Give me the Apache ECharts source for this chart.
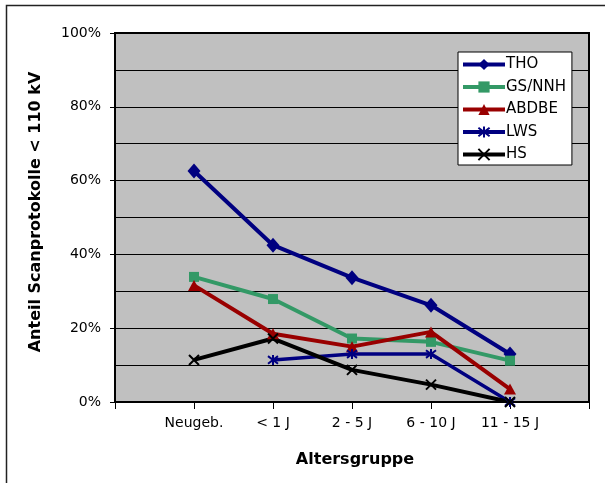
<!DOCTYPE html>
<html>
<head>
<meta charset="utf-8">
<script src="https://cdn.jsdelivr.net/npm/echarts@6/dist/echarts.min.js"></script>
<style>
  html, body { margin: 0; padding: 0; background: #fff; }
  #chart { width: 605px; height: 483px; }
</style>
</head>
<body>
<div id="chart"></div>
<script>
// Age groups; empty slots pad the axis so points sit on the inner ticks
const categories = ['', 'Neugeb.', '< 1 J', '2 - 5 J', '6 - 10 J', '11 - 15 J', ''];

// Share of scan protocols below 110 kV per site (fraction)
const tho    = [null, 0.626, 0.425, 0.337, 0.262, 0.130, null];
const gsNnh  = [null, 0.339, 0.279, 0.172, 0.163, 0.112, null];
const abdbe  = [null, 0.316, 0.185, 0.150, 0.190, 0.035, null];
const lws    = [null, null,  0.114, 0.130, 0.130, 0.000, null];
const hs     = [null, 0.114, 0.172, 0.087, 0.047, 0.000, null];

const yTicks = [0, 0.2, 0.4, 0.6, 0.8, 1.0];

const FONT = 'DejaVu Sans';
const NAVY = '#000080';

const asterisk = 'path://M0,0L10,10M10,0L0,10M5,-1.5L5,11.5';
const cross = 'path://M0,0L10,10M10,0L0,10';

function lineSeries(name, data, color, symbol, size, extra) {
  return Object.assign({
    name: name,
    type: 'line',
    data: data,
    symbol: symbol,
    symbolSize: size,
    showAllSymbol: true,
    connectNulls: false,
    lineStyle: { color: color, width: 4 },
    itemStyle: { color: color },
    emphasis: { disabled: true },
    animation: false
  }, extra || {});
}

const chart = echarts.init(document.getElementById('chart'), null, { renderer: 'canvas' });

chart.setOption({
  backgroundColor: '#fff',
  textStyle: { fontFamily: FONT, color: '#000' },
  grid: {
    left: 115, top: 33, right: 16, bottom: 81,
    show: true,
    backgroundColor: '#c0c0c0',
    borderColor: '#000',
    borderWidth: 2
  },
  legend: {
    orient: 'vertical',
    left: 458,
    top: 52,
    backgroundColor: '#fff',
    borderColor: '#000',
    borderWidth: 1,
    borderRadius: 0,
    padding: [5, 6, 3, 3],
    itemWidth: 42,
    itemHeight: 14,
    itemGap: 7.5,
    lineStyle: { width: 4 },
    textStyle: { fontFamily: FONT, fontSize: 15, color: '#000', padding: [0, 0, 0, -4] },
    data: ['THO', 'GS/NNH', 'ABDBE', 'LWS', 'HS']
  },
  xAxis: {
    type: 'category',
    data: categories,
    boundaryGap: false,
    axisLine: { lineStyle: { color: '#000', width: 2 } },
    axisTick: { show: true, interval: 0, length: 7, lineStyle: { color: '#000', width: 1 } },
    axisLabel: { interval: 0, color: '#000', fontFamily: FONT, fontSize: 14, margin: 14 },
    splitLine: { show: false }
  },
  yAxis: {
    type: 'value',
    min: yTicks[0],
    max: yTicks[yTicks.length - 1],
    interval: 0.2,
    axisLine: { show: true, lineStyle: { color: '#000', width: 2 } },
    axisTick: { show: true, length: 5, lineStyle: { color: '#000', width: 1 } },
    axisLabel: {
      color: '#000', fontFamily: FONT, fontSize: 14, margin: 14,
      formatter: v => Math.round(v * 100) + '%'
    },
    splitLine: { show: true, lineStyle: { color: '#000', width: 1 } },
    minorTick: { show: false, splitNumber: 2 },
    minorSplitLine: { show: true, lineStyle: { color: '#000', width: 1 } }
  },
  series: [
    lineSeries('THO', tho, NAVY, 'diamond', [13, 15]),
    lineSeries('GS/NNH', gsNnh, '#339966', 'rect', 10),
    lineSeries('ABDBE', abdbe, '#990000', 'triangle', [12, 11]),
    lineSeries('LWS', lws, NAVY, asterisk, 10, {
      lineStyle: { color: NAVY, width: 3.5 },
      itemStyle: { color: NAVY, borderColor: NAVY, borderWidth: 2 }
    }),
    lineSeries('HS', hs, '#000', cross, 10, {
      itemStyle: { color: '#000', borderColor: '#000', borderWidth: 2 }
    })
  ],
  graphic: [
    {
      type: 'rect',
      silent: true,
      shape: { x: 6.5, y: 5.5, width: 640, height: 520 },
      style: { fill: 'none', stroke: '#222', lineWidth: 1.5 },
      z: -1
    },
    {
      type: 'text',
      silent: true,
      x: 36, y: 212,
      rotation: Math.PI / 2,
      style: {
        text: 'Anteil Scanprotokolle < 110 kV',
        fontFamily: FONT, fontWeight: 'bold', fontSize: 16,
        fill: '#000', align: 'center', verticalAlign: 'middle'
      }
    },
    {
      type: 'text',
      silent: true,
      x: 355, y: 460,
      style: {
        text: 'Altersgruppe',
        fontFamily: FONT, fontWeight: 'bold', fontSize: 16,
        fill: '#000', align: 'center', verticalAlign: 'middle'
      }
    }
  ]
});
</script>
</body>
</html>
